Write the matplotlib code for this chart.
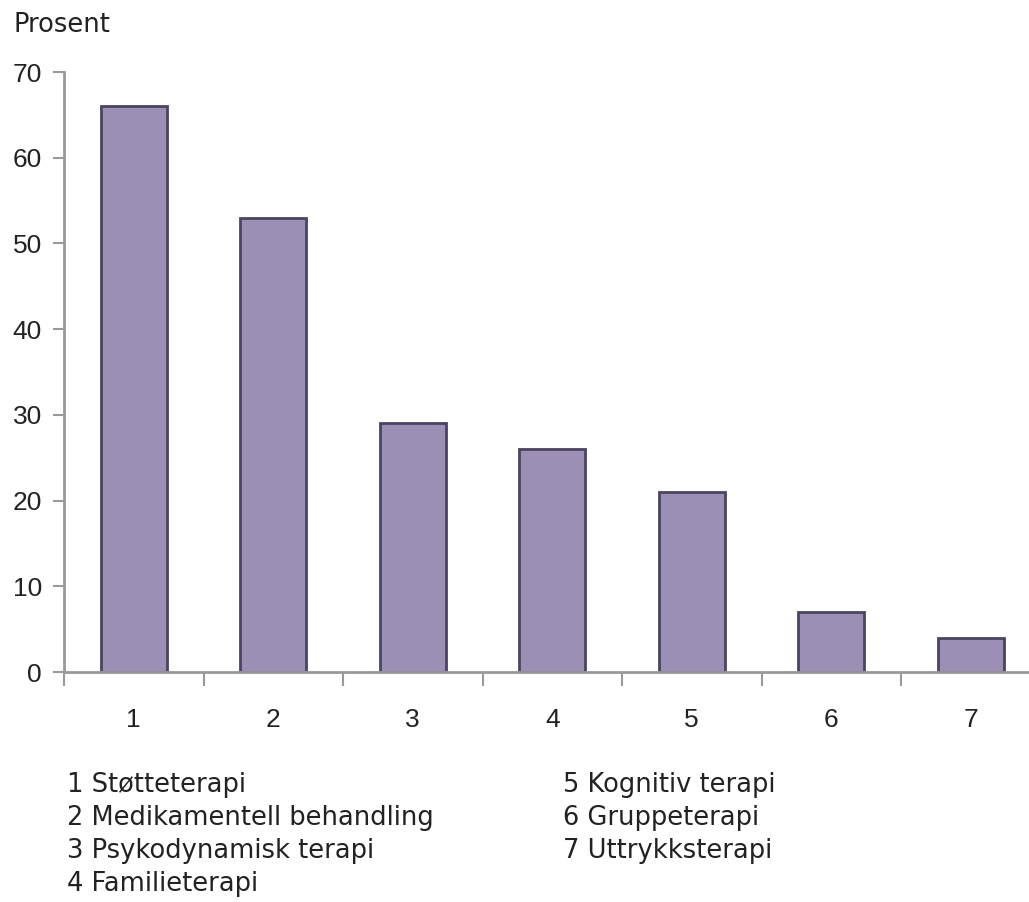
import numpy as np
import matplotlib.pyplot as plt

# data
kategorier = [1, 2, 3, 4, 5, 6, 7]
prosent = [66, 53, 29, 26, 21, 7, 4]
navn = ["Støtteterapi", "Medikamentell behandling", "Psykodynamisk terapi",
        "Familieterapi", "Kognitiv terapi", "Gruppeterapi", "Uttrykksterapi"]

plt.rcParams['font.family'] = ['Liberation Sans', 'DejaVu Sans']

fig = plt.figure(figsize=(10.29, 9.02), dpi=100)
ax = fig.add_axes([64/1029, 1-672/902, (1029-64)/1029, 600/902])

ax.bar(kategorier, prosent, width=0.47, color='#9b8fb6', edgecolor='#4a4460', linewidth=2)

ax.set_ylim(0, 70)
ax.set_xlim(0.5, 0.5 + (1029-64)/139.5)
ax.set_yticks(np.arange(0, 71, 10))
ax.tick_params(axis='y', length=8, width=1.5, color='#999999', labelsize=19, pad=8, labelcolor='#222222')

# ticks between categories, labels at category centers
ax.set_xticks(np.arange(0.5, 7.5, 1))
ax.set_xticklabels([])
ax.tick_params(axis='x', which='major', length=10, width=1.5, color='#999999')
ax.set_xticks(kategorier, minor=True)
ax.set_xticklabels([str(k) for k in kategorier], minor=True)
ax.tick_params(axis='x', which='minor', length=0, labelsize=19, pad=26, labelcolor='#222222')

for s in ['top', 'right']:
    ax.spines[s].set_visible(False)
for s in ['left', 'bottom']:
    ax.spines[s].set_color('#999999')
    ax.spines[s].set_linewidth(2)

fig.text(14/1029, 1-25/902, "Prosent", fontsize=18.5, family='DejaVu Sans',
         va='center', color='#222222')

# legend text under the chart
for i, n in enumerate(navn):
    if i < 4:
        x, y = 67, 785 + 33*i
    else:
        x, y = 563, 785 + 33*(i-4)
    fig.text(x/1029, 1-y/902, "%d %s" % (kategorier[i], n), fontsize=18.5,
             family='DejaVu Sans', va='center', color='#222222')

fig.savefig('out.png', dpi=100)
